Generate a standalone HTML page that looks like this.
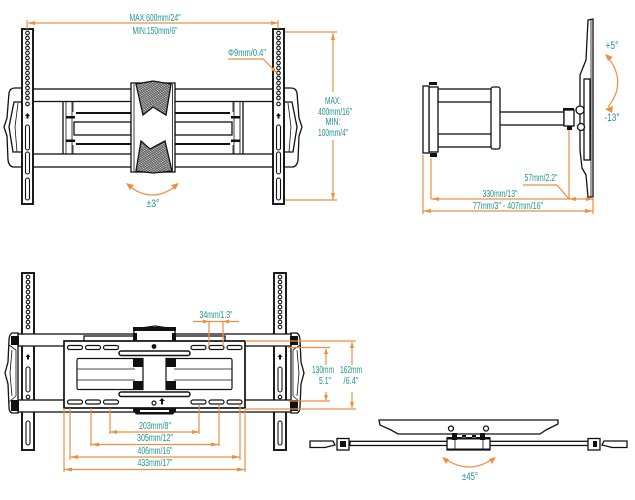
<!DOCTYPE html>
<html><head><meta charset="utf-8"><style>
html,body{margin:0;padding:0;background:#fff}
svg{display:block}
text{font-family:"Liberation Sans",sans-serif;font-size:10px;fill:#1f9490;text-anchor:middle}
.o{stroke:#ec8f43;stroke-width:1.200;fill:none}
.k{stroke:#111;stroke-width:1.300;fill:#fff}
.t{stroke:#111;stroke-width:.8;fill:none}
.b{fill:#111;stroke:none}
.a{fill:#ec8f43;stroke:none}
</style></head><body>
<svg width="635" height="500" viewBox="0 0 635 500" xmlns="http://www.w3.org/2000/svg">
<defs>
<pattern id="dots" width="3" height="2.400" patternUnits="userSpaceOnUse" patternTransform="rotate(8)"><rect width="3" height="2.400" fill="#555"/><ellipse cx=".75" cy=".6" rx=".7" ry=".5" fill="#fff"/><ellipse cx="2.250" cy="1.800" rx=".7" ry=".5" fill="#fff"/></pattern>
<g id="rail">
<rect x="0" y="0" width="11" height="175" fill="#fff" stroke="#111" stroke-width="1.900"/>
<g fill="#fff" stroke="#111" stroke-width="1.100">
<circle cx="5.500" cy="4" r="1.800"/><circle cx="5.500" cy="9" r="1.800"/><circle cx="5.500" cy="14" r="1.800"/><circle cx="5.500" cy="19" r="1.800"/><circle cx="5.500" cy="24" r="1.800"/><circle cx="5.500" cy="29" r="1.800"/><circle cx="5.500" cy="34" r="1.800"/><circle cx="5.500" cy="39" r="1.800"/><circle cx="5.500" cy="44" r="1.800"/><circle cx="5.500" cy="49" r="1.800"/><circle cx="5.500" cy="54" r="1.800"/><circle cx="5.500" cy="59" r="1.800"/><circle cx="5.500" cy="64" r="1.800"/><circle cx="5.500" cy="69" r="1.800"/><circle cx="5.500" cy="75" r="1.800"/>
<rect x="3.500" y="96" width="4" height="25" rx="2"/><rect x="3.500" y="123" width="4" height="22" rx="2"/><rect x="3.500" y="149" width="4" height="22" rx="2"/></g>
<path class="b" d="M5.500 84l2.500 3h-1.500v2.500h-2v-2.500h-1.500z"/>
</g>
<g id="railb">
<rect x="0" y="0" width="12" height="177" fill="#fff" stroke="#111" stroke-width="1.900"/>
<g fill="#fff" stroke="#111" stroke-width="1.100">
<circle cx="6" cy="4" r="1.800"/><circle cx="6" cy="9" r="1.800"/><circle cx="6" cy="14" r="1.800"/><circle cx="6" cy="19" r="1.800"/><circle cx="6" cy="24" r="1.800"/><circle cx="6" cy="29" r="1.800"/><circle cx="6" cy="34" r="1.800"/><circle cx="6" cy="39" r="1.800"/><circle cx="6" cy="44" r="1.800"/><circle cx="6" cy="49" r="1.800"/><circle cx="6" cy="54" r="1.800"/><circle cx="6" cy="71" r="1.800"/><circle cx="6" cy="124" r="1.800"/>
<rect x="4" y="94" width="4" height="25" rx="2"/><rect x="4" y="148" width="4" height="24" rx="2"/></g>
<path class="b" d="M6 81l2.500 3h-1.500v2.500h-2v-2.500h-1.500z"/>
</g>
</defs>

<!-- TOP LEFT: FRONT VIEW -->
<rect class="k" x="33" y="89" width="240" height="12.500" stroke-width="1.600"/>
<rect class="k" x="33" y="154" width="240" height="13" stroke-width="1.600"/>
<path class="k" stroke-width="1.700" d="M63 101.500V154M243 101.500V154"/>
<path class="t" d="M66 101.500V154M72 101.500V154M234 101.500V154M240 101.500V154"/>
<path class="t" d="M73 101.500V112M73 145V154M233 101.500V112M233 145V154"/>
<rect class="b" x="76" y="112" width="55" height="2"/><rect class="b" x="175" y="112" width="55" height="2"/>
<rect class="b" x="76" y="143" width="55" height="2"/><rect class="b" x="175" y="143" width="55" height="2"/>
<rect class="k" x="74" y="122" width="57" height="13"/><rect class="k" x="175" y="122" width="57" height="13"/>
<rect class="b" x="66" y="116" width="9" height="2.500"/><rect class="b" x="66" y="139.500" width="9" height="2.500"/>
<rect class="b" x="231" y="116" width="9" height="2.500"/><rect class="b" x="231" y="139.500" width="9" height="2.500"/>
<path class="k" stroke-width="1.600" d="M22 88H15Q10 88 9 93L7 118 4 127 7 136 8 160Q9 167 14 167H22z"/>
<path class="k" d="M22 102H14L9 127 13 152H22"/>
<path class="t" d="M18 103L15 127 17 152"/>
<path class="k" stroke-width="1.600" d="M284 88H291Q296 88 297 93L299 118 302 127 299 136 298 160Q297 167 292 167H284z"/>
<path class="k" d="M284 102H292L297 127 293 152H284"/>
<path class="t" d="M288 103L291 127 289 152"/>
<use href="#rail" x="22" y="29"/><use href="#rail" x="273" y="29"/>
<rect class="k" x="131" y="83" width="44" height="89" stroke-width="1.600"/>
<path class="t" d="M134 84V171M172.500 84V171"/>
<path d="M136 84L153 81 171 84 166 115 153 107 143 115z" fill="url(#dots)" stroke="#111" stroke-width="1.300"/>
<path d="M136 171L141 141 150 149 165 141 172 171 153 173z" fill="url(#dots)" stroke="#111" stroke-width="1.300"/>
<path class="o" stroke-width="1.600" d="M129 186Q152 204 176 186"/>
<path class="a" d="M126 183l8 2-4 5zM179 183l-8 2 4 5z"/>
<text x="153" y="207" textLength="13" lengthAdjust="spacingAndGlyphs" style="font-size:11px">±3°</text>
<path class="o" d="M27 20V29M278 20V29M28 23H278"/>
<path class="a" d="M28 23l7-2v4zM278 23l-7-2v4z"/>
<text x="155" y="21" textLength="51" lengthAdjust="spacingAndGlyphs">MAX:600mm/24"</text>
<text x="155" y="34" textLength="45" lengthAdjust="spacingAndGlyphs">MIN:150mm/6"</text>
<text x="247" y="56" textLength="38" lengthAdjust="spacingAndGlyphs">Φ9mm/0.4"</text>
<path class="o" d="M228 59H263L275 71"/><path class="a" d="M277 73l-6-3 3-3z"/>
<path class="o" d="M285 32H337M285 200H337M333 33V92M333 140V200"/>
<path class="a" d="M333 33l-2 7h4zM333 200l-2-7h4z"/>
<text x="333" y="104" textLength="16" lengthAdjust="spacingAndGlyphs">MAX:</text>
<text x="335" y="115" textLength="34" lengthAdjust="spacingAndGlyphs">400mm/16"</text>
<text x="333" y="125" textLength="15" lengthAdjust="spacingAndGlyphs">MIN:</text>
<text x="333" y="136" textLength="30" lengthAdjust="spacingAndGlyphs">100mm/4"</text>

<!-- TOP RIGHT: SIDE VIEW -->
<path class="k" stroke-width="1.500" d="M588 20L593 19V197H588L586 175 582 168 580 150V100L580 75 586 60z"/>
<path class="t" d="M591 20V197"/>
<rect class="k" x="584" y="79" width="6" height="81"/>
<rect class="k" x="499" y="112" width="65" height="13" stroke-width="1.500"/>
<rect class="k" x="438" y="89" width="55" height="13" stroke-width="1.500"/>
<rect class="k" x="438" y="134" width="55" height="13" stroke-width="1.500"/>
<rect class="k" x="491" y="87" width="9" height="62" rx="2" stroke-width="1.500"/>
<rect class="k" x="429" y="87" width="9" height="65" stroke-width="1.500"/>
<rect class="k" x="423" y="86" width="6" height="67" stroke-width="1.500"/>
<rect class="b" x="429" y="82" width="8" height="3"/><rect class="b" x="430" y="153" width="7" height="4"/>
<rect class="b" x="563" y="108" width="11" height="3"/><rect class="b" x="567" y="126" width="5" height="4"/>
<rect class="k" x="564" y="110" width="10" height="16" stroke-width="1.800"/>
<circle class="k" cx="580" cy="110" r="4" stroke-width="2.600"/><circle class="k" cx="581" cy="127" r="3.500" stroke-width="2.600"/>
<path class="o" stroke-width="1.400" d="M607 56Q628 82 608 107"/><path class="a" d="M605 54l8 3-5 4zM605 109l8-3-1 7z"/>
<text x="612" y="49" textLength="13" lengthAdjust="spacingAndGlyphs" style="font-size:11px">+5°</text>
<text x="612" y="121" textLength="15" lengthAdjust="spacingAndGlyphs" style="font-size:11px">-13°</text>
<path class="o" d="M423 155V214M593 197V214M431 158V199M431 199H593M423 211H593M569 130V199M523 185H557L569 199"/>
<path class="a" d="M431 199l8-2v4zM569 199l7-2v4zM593 199l-7-2v4zM423 211l8-2v4zM593 211l-8-2v4z"/>
<text x="541" y="181" textLength="33" lengthAdjust="spacingAndGlyphs">57mm/2.2"</text>
<text x="500" y="197" textLength="35" lengthAdjust="spacingAndGlyphs">330mm/13"</text>
<text x="508" y="209" textLength="70" lengthAdjust="spacingAndGlyphs">77mm/3" - 407mm/16"</text>

<!-- BOTTOM LEFT: BACK VIEW -->
<use href="#railb" x="22" y="273"/><use href="#railb" x="274" y="273"/>
<path class="k" stroke-width="1.600" d="M18 333H12Q9 335 9 340L8 362 5 373 8 384 9 407Q9 412 12 413H18z"/>
<path class="k" stroke-width="1.600" d="M291 333H297Q300 335 300 340L301 362 304 373 301 384 300 407Q300 412 297 413H291z"/>
<path class="t" d="M9 345L16 350V396L9 402M300 345L293 350V396L300 402M12 350L10 373 12 396M297 350L299 373 297 396"/>
<rect class="k" x="18" y="334" width="273" height="12" stroke-width="1.600"/>
<rect class="k" x="18" y="400" width="273" height="12" stroke-width="1.600"/>
<rect class="b" x="11" y="336" width="8" height="9"/><rect class="b" x="290" y="336" width="8" height="9"/>
<rect class="b" x="11" y="400" width="8" height="11"/><rect class="b" x="290" y="400" width="8" height="11"/>
<rect class="k" x="84" y="336" width="141" height="6"/>
<path class="k" stroke-width="1.300" d="M134 329L155 326 175 329V341H134z"/>
<rect class="b" x="133" y="327" width="43" height="4"/><rect class="b" x="133" y="333" width="4" height="8"/><rect class="b" x="172" y="333" width="4" height="8"/>
<rect x="64" y="341" width="181" height="67" fill="#fff" stroke="#111" stroke-width="1.700"/>
<path class="b" d="M133 408h43v3l-3 3.500h-37l-3-3.500z"/><rect x="140" y="410" width="29" height="2" fill="#fff"/>
<g fill="#fff" stroke="#111" stroke-width="1.200">
<rect x="67.500" y="345.500" width="15" height="4" rx="2"/><rect x="85.500" y="345.500" width="15" height="4" rx="2"/><rect x="103.500" y="345.500" width="15" height="4" rx="2"/><rect x="191" y="345.500" width="15" height="4" rx="2"/><rect x="209" y="345.500" width="15" height="4" rx="2"/><rect x="227" y="345.500" width="15" height="4" rx="2"/>
<rect x="67.500" y="400" width="15" height="4" rx="2"/><rect x="85.500" y="400" width="15" height="4" rx="2"/><rect x="103.500" y="400" width="15" height="4" rx="2"/><rect x="191" y="400" width="15" height="4" rx="2"/><rect x="209" y="400" width="15" height="4" rx="2"/><rect x="227" y="400" width="15" height="4" rx="2"/>
<rect x="119" y="351" width="71" height="4.500" rx="2.200" stroke-width="1.500"/><rect x="119" y="392" width="71" height="4.500" rx="2.200" stroke-width="1.500"/>
<path d="M78 358.500H143V389.500H78Q77 389 77 388V360Q77 359 78 358.500z"/>
<path d="M231 358.500H166V389.500H231Q232 389 232 388V360Q232 359 231 358.500z"/>
<circle cx="154" cy="403" r="2"/>
</g>
<path class="t" d="M77 369H135M77 380H135M232 369H174M232 380H174"/>
<rect class="b" x="133" y="359" width="10" height="8"/><rect class="b" x="133" y="381" width="10" height="8"/>
<rect class="b" x="166" y="359" width="10" height="8"/><rect class="b" x="166" y="381" width="10" height="8"/>
<circle class="b" cx="154" cy="346.500" r="2.400"/>
<path class="b" d="M162 398l3 3h-2v3.500h-2V401h-2z"/>
<path class="o" d="M245 341H356M245 409H356M288 347.500H330M288 401H330M326 349V365M326 392V400M352 342V365M352 392V408"/>
<path class="a" d="M326 348l-2 6h4zM326 401l-2-6h4zM352 342l-2 6h4zM352 408l-2-6h4z"/>
<text x="323" y="373" textLength="22" lengthAdjust="spacingAndGlyphs">130mm</text>
<text x="325" y="384" textLength="12" lengthAdjust="spacingAndGlyphs">5.1"</text>
<text x="351" y="373" textLength="22" lengthAdjust="spacingAndGlyphs">162mm</text>
<text x="351" y="384" textLength="15" lengthAdjust="spacingAndGlyphs">/6.4"</text>
<text x="216" y="318" textLength="33" lengthAdjust="spacingAndGlyphs">34mm/1.3"</text>
<path class="o" d="M193 321.500H239M209 321V346M223 321V346"/>
<path class="a" d="M209 321.500l-6-2v4zM223 321.500l6-2v4z"/>
<path class="o" d="M64 408V472M70 408V460M91 408V446M110 408V434M199 405V434M219 405V446M240 405V460M245 408V472"/>
<path class="o" d="M110 432H199M91 444.500H219M70 457H240M64 469.500H245"/>
<path class="a" d="M110 432l7-2v4zM199 432l-7-2v4zM91 444.500l8-2v4zM219 444.500l-8-2v4zM70 457l8-2v4zM240 457l-8-2v4zM64 469.500l8-2v4zM245 469.500l-8-2v4z"/>
<text x="155" y="429" textLength="32" lengthAdjust="spacingAndGlyphs">203mm/8"</text>
<text x="155" y="441" textLength="36" lengthAdjust="spacingAndGlyphs">305mm/12"</text>
<text x="155" y="454" textLength="35" lengthAdjust="spacingAndGlyphs">406mm/16"</text>
<text x="155" y="466" textLength="35" lengthAdjust="spacingAndGlyphs">433mm/17"</text>

<!-- BOTTOM RIGHT: TOP VIEW -->
<path class="k" stroke-width="1.600" d="M379 420H558V424L546 430 540 434H398L391 430 380 425z"/>
<circle class="k" cx="451" cy="428.500" r="2.500" stroke-width="2.500"/><circle class="k" cx="486" cy="428.500" r="2.500" stroke-width="2.500"/>
<rect class="k" x="350" y="441.300" width="238" height="4.200" stroke-width="1.400"/>
<path class="k" stroke-width="1.600" d="M447 438H490V450H447z"/>
<path class="b" d="M452 433h5v7h-5zM480 433h5v7h-5zM447 437h43v2.500h-43zM447 448.500h43v2h-43zM462 438h4v-3h-4zM472 438h4v-3h-4z"/>
<path class="t" d="M455 440V449M483 440V449"/>
<rect class="k" x="337" y="438.500" width="12" height="11.500"/><rect class="b" x="340" y="441" width="6" height="6"/>
<rect class="k" x="588" y="438.500" width="12" height="11.500"/><rect class="b" x="593" y="441" width="4" height="6"/>
<path class="k" stroke-width="1.400" d="M310 441H333L335 445 325 447.500H310z"/>
<path class="k" stroke-width="1.400" d="M627 441H604L602 445 612 447.500H627z"/>
<path class="o" stroke-width="1.400" d="M444 458Q469 476 494 458"/><path class="a" d="M442 457l7 2-3 5zM496 457l-7 2 3 5z"/>
<text x="470" y="480" textLength="16" lengthAdjust="spacingAndGlyphs" style="font-size:11px">±45°</text>
</svg>
</body></html>
